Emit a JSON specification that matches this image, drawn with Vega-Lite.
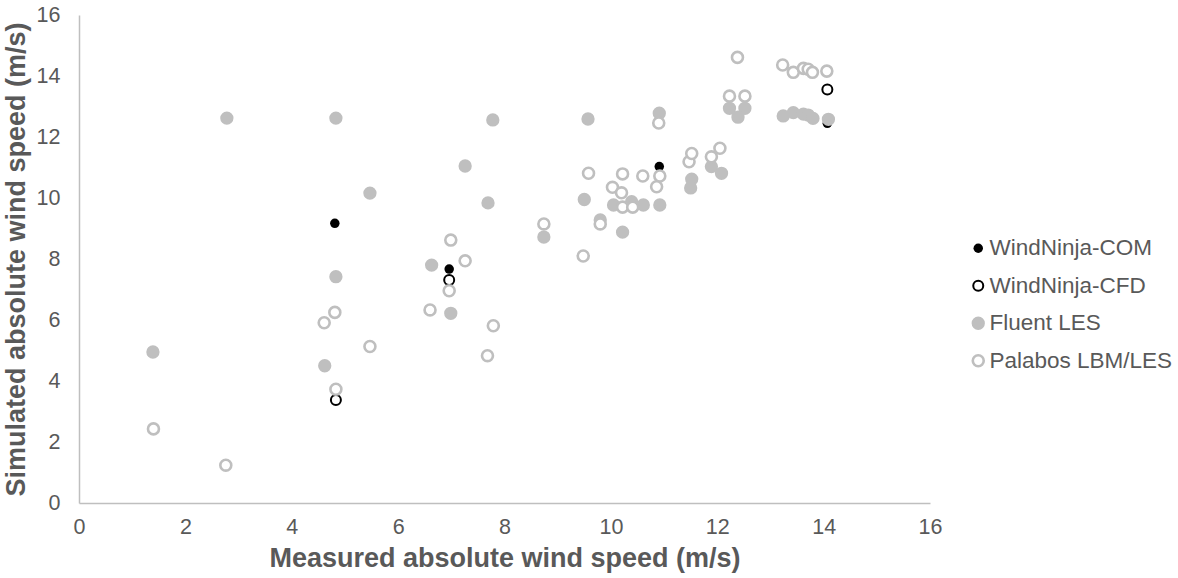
{
  "$schema": "https://vega.github.io/schema/vega-lite/v6.json",
  "width": 851,
  "height": 488,
  "autosize": {"type": "none"},
  "padding": {"left": 79, "top": 15, "right": 248, "bottom": 75},
  "background": "white",
  "config": {
    "view": {"stroke": null},
    "font": "Liberation Sans"
  },
  "data": {
    "values": [
      {"s": "WindNinja-COM", "x": 4.81, "y": 9.17},
      {"s": "WindNinja-COM", "x": 6.96, "y": 7.67},
      {"s": "WindNinja-COM", "x": 10.91, "y": 11.03},
      {"s": "WindNinja-COM", "x": 14.07, "y": 12.45},
      {"s": "WindNinja-CFD", "x": 4.83, "y": 3.38},
      {"s": "WindNinja-CFD", "x": 6.96, "y": 7.31},
      {"s": "WindNinja-CFD", "x": 14.07, "y": 13.56},
      {"s": "Fluent LES", "x": 1.39, "y": 4.95},
      {"s": "Fluent LES", "x": 2.78, "y": 12.62},
      {"s": "Fluent LES", "x": 4.83, "y": 12.62},
      {"s": "Fluent LES", "x": 5.47, "y": 10.16},
      {"s": "Fluent LES", "x": 4.83, "y": 7.42},
      {"s": "Fluent LES", "x": 4.62, "y": 4.5},
      {"s": "Fluent LES", "x": 6.63, "y": 7.8},
      {"s": "Fluent LES", "x": 6.99, "y": 6.22},
      {"s": "Fluent LES", "x": 7.26, "y": 11.05},
      {"s": "Fluent LES", "x": 7.69, "y": 9.84},
      {"s": "Fluent LES", "x": 7.78, "y": 12.56},
      {"s": "Fluent LES", "x": 8.74, "y": 8.72},
      {"s": "Fluent LES", "x": 9.5, "y": 9.95},
      {"s": "Fluent LES", "x": 9.57, "y": 12.59},
      {"s": "Fluent LES", "x": 9.8, "y": 9.28},
      {"s": "Fluent LES", "x": 10.05, "y": 9.77},
      {"s": "Fluent LES", "x": 10.39, "y": 9.88},
      {"s": "Fluent LES", "x": 10.61, "y": 9.77},
      {"s": "Fluent LES", "x": 10.92, "y": 9.77},
      {"s": "Fluent LES", "x": 10.22, "y": 8.88},
      {"s": "Fluent LES", "x": 10.91, "y": 12.78},
      {"s": "Fluent LES", "x": 11.52, "y": 10.62},
      {"s": "Fluent LES", "x": 11.5, "y": 10.33},
      {"s": "Fluent LES", "x": 11.89, "y": 11.03},
      {"s": "Fluent LES", "x": 12.08, "y": 10.81},
      {"s": "Fluent LES", "x": 12.23, "y": 12.94},
      {"s": "Fluent LES", "x": 12.52, "y": 12.94},
      {"s": "Fluent LES", "x": 12.39, "y": 12.65},
      {"s": "Fluent LES", "x": 13.24, "y": 12.69},
      {"s": "Fluent LES", "x": 13.43, "y": 12.8},
      {"s": "Fluent LES", "x": 13.62, "y": 12.75},
      {"s": "Fluent LES", "x": 13.71, "y": 12.72},
      {"s": "Fluent LES", "x": 13.8, "y": 12.61},
      {"s": "Fluent LES", "x": 14.09, "y": 12.58},
      {"s": "Palabos LBM/LES", "x": 1.4, "y": 2.43},
      {"s": "Palabos LBM/LES", "x": 2.76, "y": 1.24},
      {"s": "Palabos LBM/LES", "x": 4.61, "y": 5.91},
      {"s": "Palabos LBM/LES", "x": 4.81, "y": 6.25},
      {"s": "Palabos LBM/LES", "x": 4.83, "y": 3.73},
      {"s": "Palabos LBM/LES", "x": 5.47, "y": 5.13},
      {"s": "Palabos LBM/LES", "x": 6.6, "y": 6.33},
      {"s": "Palabos LBM/LES", "x": 6.99, "y": 8.62},
      {"s": "Palabos LBM/LES", "x": 6.96, "y": 6.96},
      {"s": "Palabos LBM/LES", "x": 7.26, "y": 7.94},
      {"s": "Palabos LBM/LES", "x": 7.79, "y": 5.81},
      {"s": "Palabos LBM/LES", "x": 7.68, "y": 4.83},
      {"s": "Palabos LBM/LES", "x": 8.74, "y": 9.15},
      {"s": "Palabos LBM/LES", "x": 9.48, "y": 8.1},
      {"s": "Palabos LBM/LES", "x": 9.58, "y": 10.81},
      {"s": "Palabos LBM/LES", "x": 9.8, "y": 9.15},
      {"s": "Palabos LBM/LES", "x": 10.03, "y": 10.35},
      {"s": "Palabos LBM/LES", "x": 10.2, "y": 10.17},
      {"s": "Palabos LBM/LES", "x": 10.22, "y": 10.79},
      {"s": "Palabos LBM/LES", "x": 10.22, "y": 9.7},
      {"s": "Palabos LBM/LES", "x": 10.41, "y": 9.7},
      {"s": "Palabos LBM/LES", "x": 10.6, "y": 10.72},
      {"s": "Palabos LBM/LES", "x": 10.92, "y": 10.72},
      {"s": "Palabos LBM/LES", "x": 10.86, "y": 10.37},
      {"s": "Palabos LBM/LES", "x": 10.9, "y": 12.46},
      {"s": "Palabos LBM/LES", "x": 11.47, "y": 11.19},
      {"s": "Palabos LBM/LES", "x": 11.52, "y": 11.46},
      {"s": "Palabos LBM/LES", "x": 11.89, "y": 11.35},
      {"s": "Palabos LBM/LES", "x": 12.05, "y": 11.63},
      {"s": "Palabos LBM/LES", "x": 12.23, "y": 13.34},
      {"s": "Palabos LBM/LES", "x": 12.52, "y": 13.34},
      {"s": "Palabos LBM/LES", "x": 12.38, "y": 14.61},
      {"s": "Palabos LBM/LES", "x": 13.23, "y": 14.36},
      {"s": "Palabos LBM/LES", "x": 13.43, "y": 14.12},
      {"s": "Palabos LBM/LES", "x": 13.62, "y": 14.25},
      {"s": "Palabos LBM/LES", "x": 13.71, "y": 14.22},
      {"s": "Palabos LBM/LES", "x": 13.79, "y": 14.12},
      {"s": "Palabos LBM/LES", "x": 14.06, "y": 14.16}
    ]
  },
  "mark": {"type": "point", "shape": "circle", "opacity": 1, "filled": false},
  "encoding": {
    "x": {
      "field": "x", "type": "quantitative",
      "scale": {"domain": [0, 16], "nice": false, "zero": true},
      "axis": {
        "title": "Measured absolute wind speed (m/s)",
        "values": [0, 2, 4, 6, 8, 10, 12, 14, 16],
        "grid": false, "ticks": false,
        "domainColor": "#bfbfbf", "domainWidth": 1.5,
        "labelFont": "Liberation Sans", "labelFontSize": 21.5, "labelColor": "#595959",
        "labelPadding": 13, "labelFlush": false,
        "titleFont": "Liberation Sans", "titleFontSize": 27, "titleFontWeight": "bold",
        "titleColor": "#595959", "titlePadding": 8
      }
    },
    "y": {
      "field": "y", "type": "quantitative",
      "scale": {"domain": [0, 16], "nice": false, "zero": true},
      "axis": {
        "title": "Simulated absolute wind speed (m/s)",
        "values": [0, 2, 4, 6, 8, 10, 12, 14, 16],
        "grid": false, "ticks": false,
        "domainColor": "#bfbfbf", "domainWidth": 1.5,
        "labelFont": "Liberation Sans", "labelFontSize": 21.5, "labelColor": "#595959",
        "labelPadding": 19, "labelFlush": false,
        "titleFont": "Liberation Sans", "titleFontSize": 27, "titleFontWeight": "bold",
        "titleColor": "#595959", "titlePadding": 6
      }
    },
    "fill": {
      "field": "s", "type": "nominal",
      "scale": {
        "domain": ["WindNinja-COM", "WindNinja-CFD", "Fluent LES", "Palabos LBM/LES"],
        "range": ["#000000", "#ffffff", "#bfbfbf", "#ffffff"]
      },
      "legend": {
        "title": null, "orient": "none", "legendX": 888, "legendY": 222,
        "symbolType": "circle",
        "labelFont": "Liberation Sans", "labelFontSize": 22.5, "labelColor": "#595959",
        "labelOffset": 0, "labelLimit": 300, "rowPadding": 14.5, "symbolOpacity": 1
      }
    },
    "stroke": {
      "field": "s", "type": "nominal",
      "scale": {
        "domain": ["WindNinja-COM", "WindNinja-CFD", "Fluent LES", "Palabos LBM/LES"],
        "range": ["#000000", "#000000", "#bfbfbf", "#bfbfbf"]
      }
    },
    "strokeWidth": {
      "field": "s", "type": "nominal",
      "scale": {
        "type": "ordinal",
        "domain": ["WindNinja-COM", "WindNinja-CFD", "Fluent LES", "Palabos LBM/LES"],
        "range": [0, 2, 0, 2.6]
      }
    },
    "size": {
      "field": "s", "type": "nominal",
      "scale": {
        "type": "ordinal",
        "domain": ["WindNinja-COM", "WindNinja-CFD", "Fluent LES", "Palabos LBM/LES"],
        "range": [90, 100, 177, 120]
      }
    }
  }
}
